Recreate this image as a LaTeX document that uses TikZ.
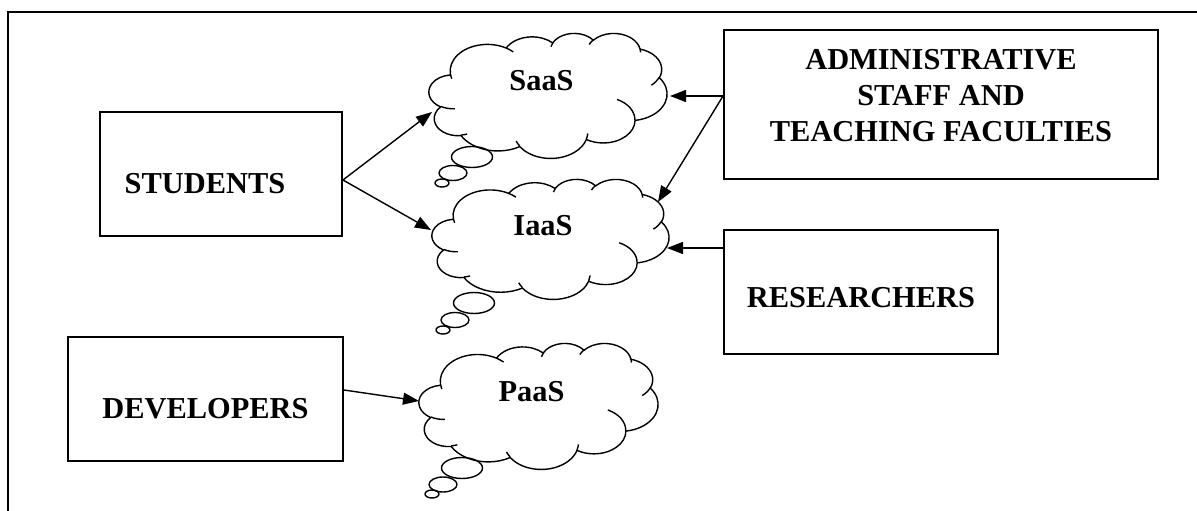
\documentclass[tikz,border=0pt]{standalone}
\usepackage{fontspec}
\setmainfont{Liberation Serif}
\usetikzlibrary{arrows.meta}
\tikzset{
  oo/.style n args={4}{x radius=#1, y radius=#2,
    start angle={atan2(#1*sin(#3),#2*cos(#3))},
    delta angle={mod(atan2(#1*sin(#3+#4),#2*cos(#3+#4))-atan2(#1*sin(#3),#2*cos(#3))+720,360)}},
  cloudline/.style={line width=1.4pt, line join=round},
  box/.style={draw, line width=1.9pt, inner sep=0pt, text depth=0pt,
    font=\fontsize{30.4}{36}\selectfont\bfseries},
  lbl/.style={inner sep=0pt, anchor=base, font=\fontsize{30.4}{36}\selectfont\bfseries},
  conn/.style={line width=1.4pt, -{Triangle[length=16pt,width=12pt]}},
}
% #1 left, #2 top, #3 width, #4 height
\newcommand\cloudbody[4]{%
  \begin{scope}[shift={(#1,#2)}, x=#3pt/432, y=-#4pt/432]
    \path[cloudline, draw, fill=white] (39.00,143.70)
      arc[oo={67.53}{91.90}{-190.4875}{123.7805}]
      arc[oo={53.33}{72.67}{-144.1024}{89.9452}]
      arc[oo={43.65}{59.45}{-145.8079}{99.7230}]
      arc[oo={48.57}{65.95}{-130.9861}{117.2417}]
      arc[oo={53.33}{72.73}{-78.7089}{109.0269}]
      arc[oo={67.75}{92.20}{-46.2673}{130.2690}]
      arc[oo={57.85}{78.67}{0.6250}{114.0333}]
      arc[oo={67.52}{92.15}{22.4516}{115.1726}]
      arc[oo={77.20}{105.43}{66.2426}{75.7110}]
      arc[oo={43.60}{59.18}{-274.9421}{146.7356}]
      arc[oo={43.45}{59.45}{-246.8285}{152.5189}]
      -- cycle;
    \path[cloudline, draw]
      (46.93,261.77) arc[oo={43.45}{59.45}{86.7420}{26.4295}]
      (69.28,348.99) arc[oo={43.60}{59.18}{73.6105}{11.4475}]
      (164.78,390.90) arc[oo={67.52}{92.15}{137.6242}{14.0811}]
      (288.27,347.51) arc[oo={67.52}{92.15}{6.4533}{15.9984}]
      (341.29,229.54) arc[oo={57.85}{78.67}{-70.2924}{70.9174}]
      (417.98,153.54) arc[oo={53.33}{72.73}{30.3180}{27.7515}]
      (383.24,54.26) arc[oo={48.57}{65.95}{-13.7443}{14.8589}]
      (290.78,39.52) arc[oo={48.57}{65.95}{-149.1815}{18.1954}]
      (221.41,47.20) arc[oo={43.65}{59.45}{-163.4943}{17.6864}]
      (140.00,51.92) arc[oo={67.53}{91.90}{-66.7070}{12.3194}]
      (41.27,157.89) arc[oo={67.53}{91.90}{157.6544}{11.8582}];
  \end{scope}}
% three thought bubbles: centres
\newcommand\bubbles[6]{%
  \draw[cloudline] (#1,#2) ellipse[x radius=20.5, y radius=10.5];
  \draw[cloudline] (#3,#4) ellipse[x radius=14, y radius=7.5];
  \draw[cloudline] (#5,#6) ellipse[x radius=7, y radius=4];}
\begin{document}
\begin{tikzpicture}[x=1pt, y=-1pt]
\useasboundingbox (0,0) rectangle (1197,511);
% frame
\draw[line width=1.3pt] (1197,12) -- (8,12) -- (8,511);

% clouds
\cloudbody{429}{33}{238}{125}
\bubbles{472}{157}{453}{173}{442}{183}
\cloudbody{432}{179}{237}{120}
\bubbles{474}{303}{455}{320}{443}{330}
\cloudbody{419}{343}{239}{126}
\bubbles{462}{468}{443}{484.5}{432}{494}

\node[lbl] (saas) at (541.5,90) {SaaS};
\node[lbl] (iaas) at (543,235) {IaaS};
\node[lbl] (paas) at (531.5,401) {PaaS};

\coordinate (saasL) at (432,112);
\coordinate (saasR) at (670,96);
\coordinate (iaasL) at (431,230);
\coordinate (iaasTR) at (658,202);
\coordinate (iaasR) at (667,248);
\coordinate (paasL) at (419,401);

% boxes
\node[box, minimum width=242pt, minimum height=124pt, text height=38pt]
  (students) at (221,174) {STUDENTS\kern32pt};
\node[box, minimum width=275pt, minimum height=124pt, text height=38pt]
  (developers) at (205.5,399) {DEVELOPERS};
\node[box, minimum width=274pt, minimum height=124pt, text height=30pt]
  (researchers) at (861,292) {RESEARCHERS};
\node[box, minimum width=434pt, minimum height=149pt, text height=0pt, text depth=69pt]
  (admin) at (941,104.5)
  {\begin{tabular}[t]{@{}c@{}}ADMINISTRATIVE\\STAFF AND\\TEACHING FACULTIES\end{tabular}};

% connectors
\draw[conn] ([yshift=-6pt]students.east) -- (saasL);
\draw[conn] ([yshift=-6pt]students.east) -- (iaasL);
\draw[conn] (admin.west |- saasR) -- (saasR);
\draw[conn] (admin.west |- saasR) -- (iaasTR);
\draw[conn] (researchers.west |- iaasR) -- (iaasR);
\draw[conn] ([yshift=9pt]developers.east) -- (paasL);
\end{tikzpicture}
\end{document}
